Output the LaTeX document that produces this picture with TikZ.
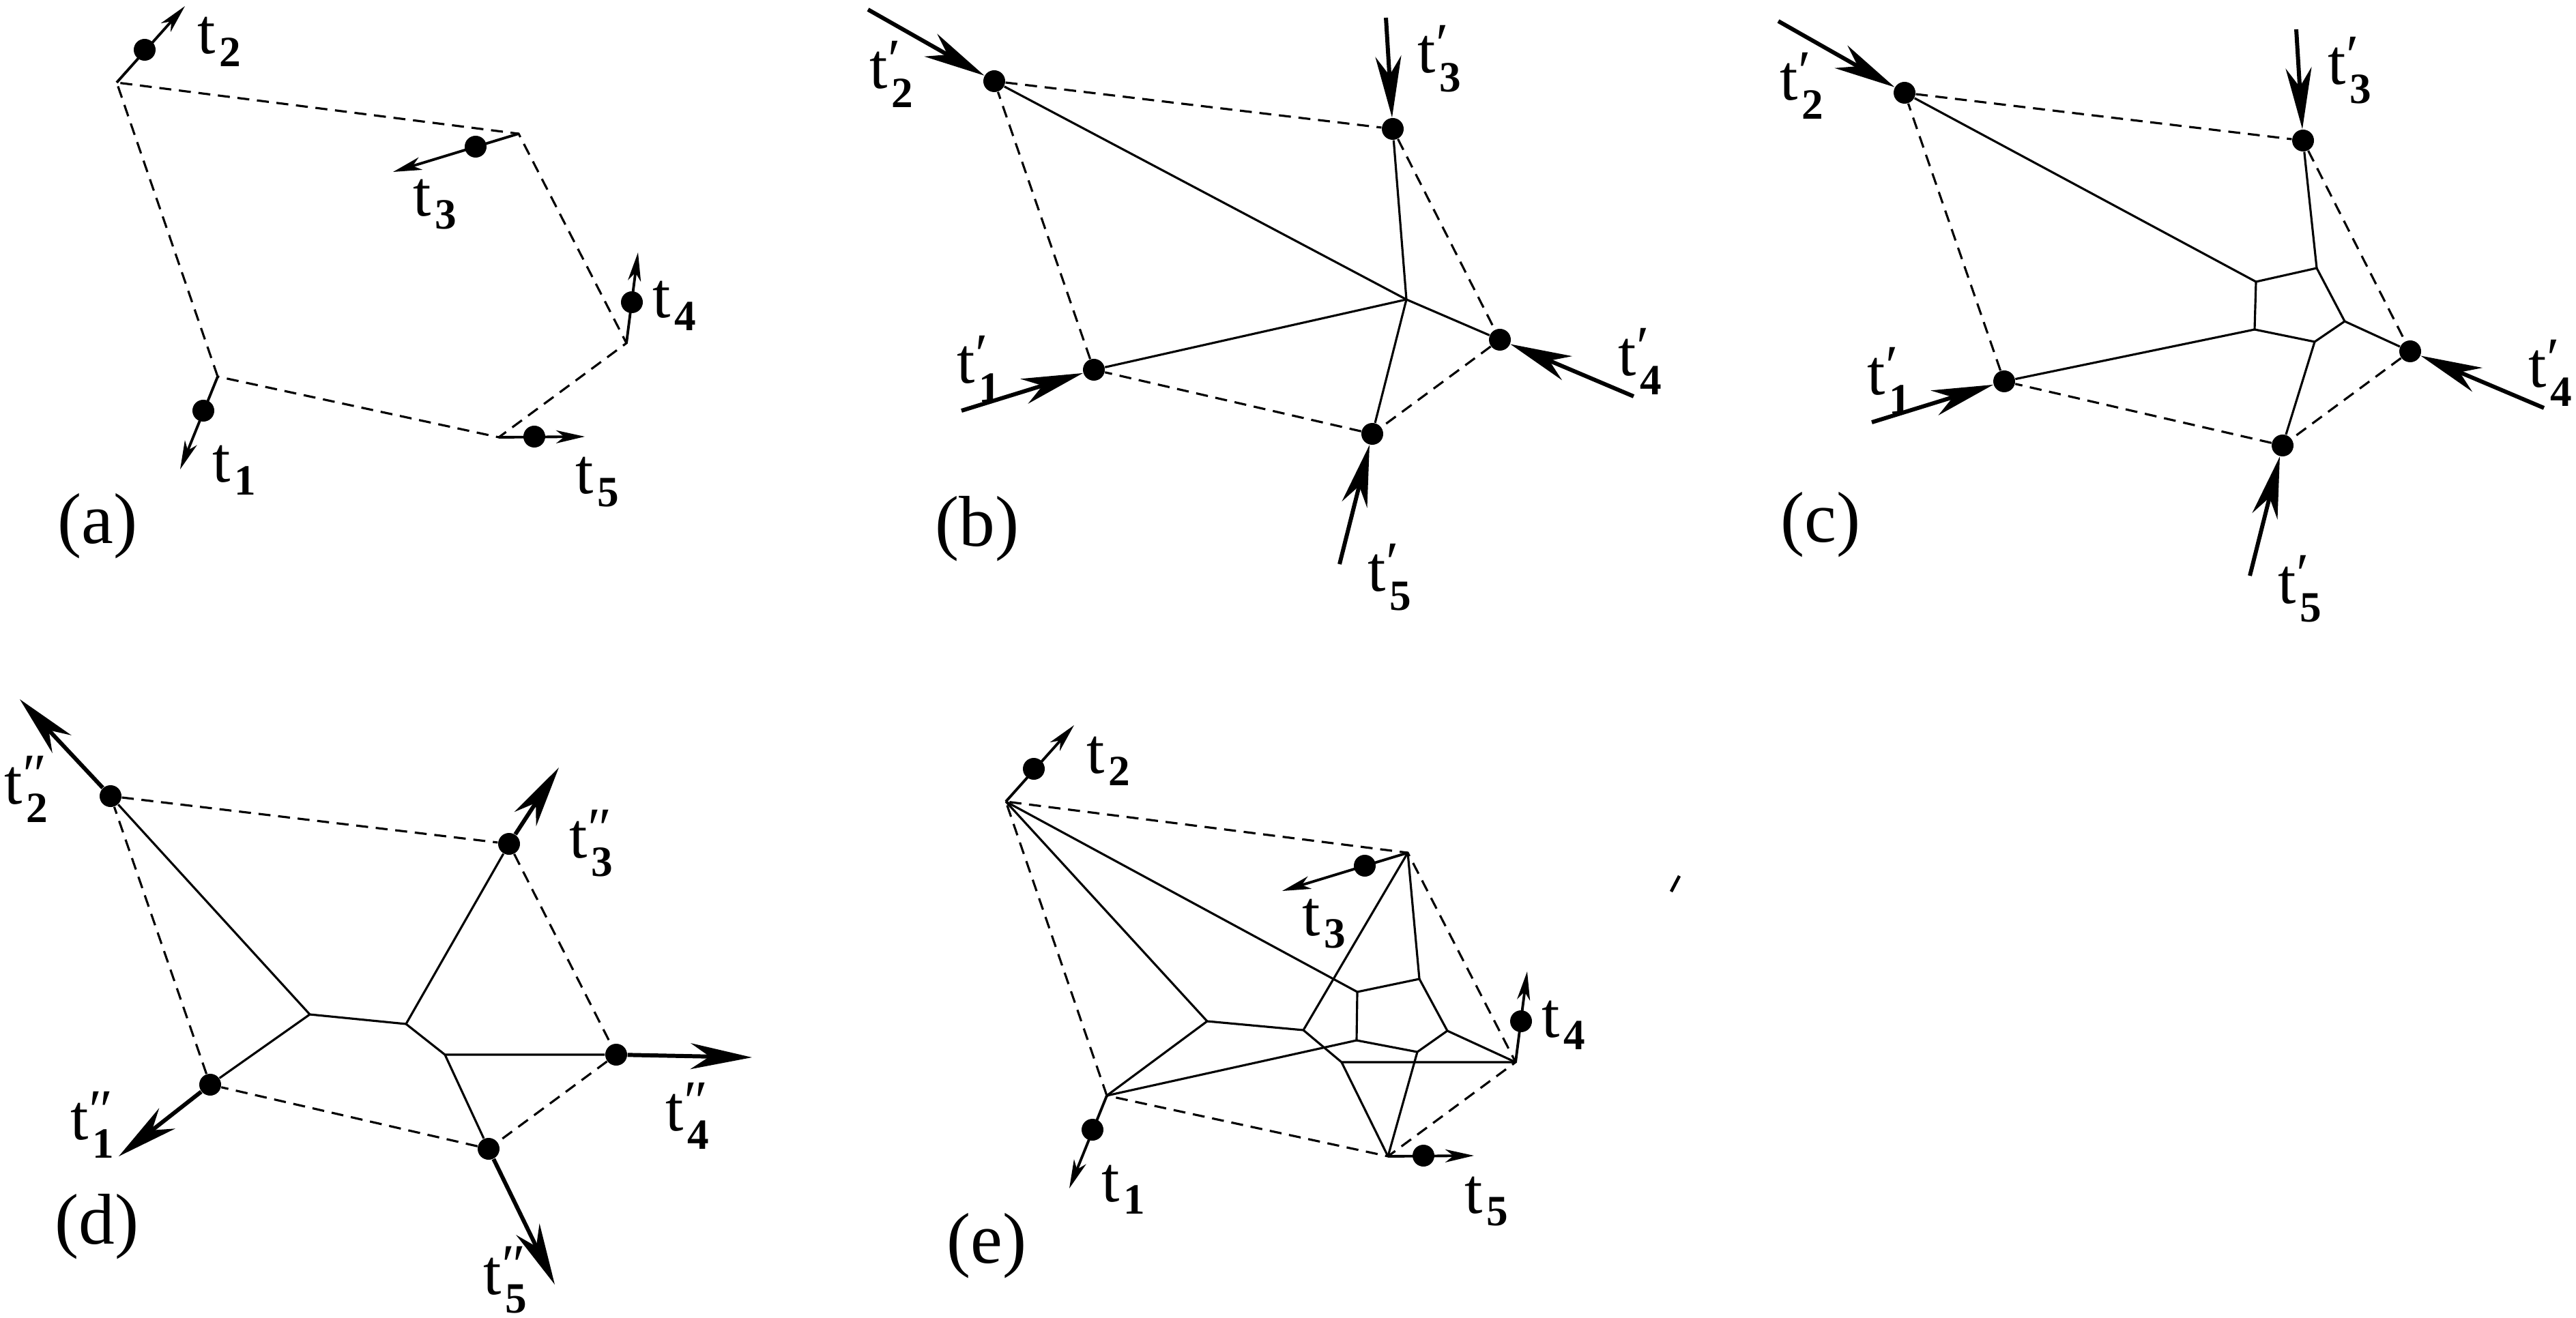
\documentclass[tikz,border=0pt]{standalone}
\usepackage{fontspec}
\setmainfont{Liberation Serif}
\usepackage{tikz}
\usetikzlibrary{arrows.meta}

\newcommand{\tfont}{\fontsize{27}{30}\selectfont}
\newcommand{\pfont}{\fontsize{30}{34}\selectfont}
\newcommand{\sfont}{\fontsize{18}{20}\selectfont\bfseries}
% t with subscript, and t with prime(s) and subscript
\newcommand{\tv}[1]{t\hspace{1.5pt}\raisebox{-5.4pt}{\sfont #1}}
\newcommand{\tp}[2]{t\rlap{\raisebox{4pt}{\fontsize{24}{24}\selectfont #2}}\hspace{1.5pt}\raisebox{-7.7pt}{\sfont #1}}

\begin{document}
\begin{tikzpicture}[
    ball/.style={circle, fill, inner sep=0pt, minimum size=0.32cm},
    hull/.style={dashed, dash pattern=on 5pt off 3.2pt, line width=0.9pt},
    web/.style={line width=0.9pt},
    vec/.style={-{Stealth[length=0.42cm, width=0.19cm, inset=0.12cm]}, line width=1.1pt},
    force/.style={-{Stealth[length=0.9cm, width=0.38cm, inset=0.28cm]}, line width=1.7pt},
    lbl/.style={anchor=base west, inner sep=0pt, font=\tfont},
    panel/.style={anchor=base west, inner sep=0pt, font=\pfont}
  ]
  \useasboundingbox (0,0) rectangle (37.75,-19.32);

  % (a) initial configuration
  \coordinate (a1v) at (3.19,-5.52);
  \coordinate (a2v) at (1.71,-1.21);
  \coordinate (a3v) at (7.60,-1.96);
  \coordinate (a4v) at (9.18,-5.03);
  \coordinate (a5v) at (7.31,-6.41);
  \coordinate (a1t) at (2.64,-6.88);
  \coordinate (a2t) at (2.71,-0.09);
  \coordinate (a3t) at (5.76,-2.52);
  \coordinate (a4t) at (9.35,-3.70);
  \coordinate (a5t) at (8.57,-6.40);
  \node[ball] (a1) at (2.98,-6.02) {};
  \node[ball] (a2) at (2.12,-0.73) {};
  \node[ball] (a3) at (6.97,-2.15) {};
  \node[ball] (a4) at (9.26,-4.43) {};
  \node[ball] (a5) at (7.83,-6.40) {};

  \draw[hull] (a1v) -- (a2v) -- (a3v) -- (a4v) -- (a5v) -- cycle;
  \draw[vec] (a1v) -- (a1t);
  \draw[vec] (a2v) -- (a2t);
  \draw[vec] (a3v) -- (a3t);
  \draw[vec] (a4v) -- (a4t);
  \draw[vec] (a5v) -- (a5t);

  \node[lbl] (a1l) at (3.11,-7.07) {\tv{1}};
  \node[lbl] (a2l) at (2.89,-0.79) {\tv{2}};
  \node[lbl] (a3l) at (6.05,-3.17) {\tv{3}};
  \node[lbl] (a4l) at (9.56,-4.66) {\tv{4}};
  \node[lbl] (a5l) at (8.43,-7.24) {\tv{5}};
  \node[panel] (acap) at (0.84,-7.97) {(a)};

  % (b) incoming momenta
  \node[ball] (b1) at (16.03,-5.42) {};
  \node[ball] (b2) at (14.57,-1.19) {};
  \node[ball] (b3) at (20.41,-1.89) {};
  \node[ball] (b4) at (21.98,-4.98) {};
  \node[ball] (b5) at (20.11,-6.36) {};
  \coordinate (b1s) at (14.09,-6.02);
  \coordinate (b2s) at (12.72,-0.14);
  \coordinate (b3s) at (20.31,-0.26);
  \coordinate (b4s) at (23.94,-5.81);
  \coordinate (b5s) at (19.63,-8.27);
  \coordinate (bj) at (20.61,-4.39);

  \draw[hull] (b1) -- (b2) -- (b3) -- (b4) -- (b5) -- (b1);
  \draw[web] (b2) -- (bj) -- (b4);
  \draw[web] (b3) -- (bj) -- (b5);
  \draw[web] (b1) -- (bj);
  \draw[force] (b1s) -- (b1);
  \draw[force] (b2s) -- (b2);
  \draw[force] (b3s) -- (b3);
  \draw[force] (b4s) -- (b4);
  \draw[force] (b5s) -- (b5);

  \node[lbl] (b1l) at (14.02,-5.62) {\tp{1}{′}};
  \node[lbl] (b2l) at (12.74,-1.30) {\tp{2}{′}};
  \node[lbl] (b3l) at (20.77,-1.07) {\tp{3}{′}};
  \node[lbl] (b4l) at (23.71,-5.51) {\tp{4}{′}};
  \node[lbl] (b5l) at (20.04,-8.67) {\tp{5}{′}};
  \node[panel] (bcap) at (13.70,-8.01) {(b)};

  % (c) same momenta, resolved vertex
  \begin{scope}[shift={(13.34,-0.17)}]
    \node[ball] (c1) at (16.03,-5.42) {};
    \node[ball] (c2) at (14.57,-1.19) {};
    \node[ball] (c3) at (20.41,-1.89) {};
    \node[ball] (c4) at (21.98,-4.98) {};
    \node[ball] (c5) at (20.11,-6.36) {};
    \coordinate (c1s) at (14.09,-6.02);
    \coordinate (c2s) at (12.72,-0.14);
    \coordinate (c3s) at (20.31,-0.26);
    \coordinate (c4s) at (23.94,-5.81);
    \coordinate (c5s) at (19.63,-8.27);
    \coordinate (cA) at (19.72,-3.96);
    \coordinate (cB) at (20.61,-3.76);
    \coordinate (cC) at (21.02,-4.54);
    \coordinate (cD) at (20.58,-4.84);
    \coordinate (cE) at (19.70,-4.66);

    \draw[hull] (c1) -- (c2) -- (c3) -- (c4) -- (c5) -- (c1);
    \draw[web] (cA) -- (cB) -- (cC) -- (cD) -- (cE) -- cycle;
    \draw[web] (c2) -- (cA);
    \draw[web] (c3) -- (cB);
    \draw[web] (c4) -- (cC);
    \draw[web] (c5) -- (cD);
    \draw[web] (c1) -- (cE);
    \draw[force] (c1s) -- (c1);
    \draw[force] (c2s) -- (c2);
    \draw[force] (c3s) -- (c3);
    \draw[force] (c4s) -- (c4);
    \draw[force] (c5s) -- (c5);

    \node[lbl] (c1l) at (14.02,-5.62) {\tp{1}{′}};
    \node[lbl] (c2l) at (12.74,-1.30) {\tp{2}{′}};
    \node[lbl] (c3l) at (20.77,-1.07) {\tp{3}{′}};
    \node[lbl] (c4l) at (23.71,-5.51) {\tp{4}{′}};
    \node[lbl] (c5l) at (20.04,-8.67) {\tp{5}{′}};
    \node[panel] (ccap) at (12.75,-7.78) {(c)};
  \end{scope}

  % (d) outgoing momenta
  \begin{scope}[shift={(-12.95,-10.48)}]
    \node[ball] (d1) at (16.03,-5.42) {};
    \node[ball] (d2) at (14.57,-1.19) {};
    \node[ball] (d3) at (20.41,-1.89) {};
    \node[ball] (d4) at (21.98,-4.98) {};
    \node[ball] (d5) at (20.11,-6.36) {};
    \coordinate (d1t) at (14.69,-6.47);
    \coordinate (d2t) at (13.24,0.23);
    \coordinate (d3t) at (21.14,-0.77);
    \coordinate (d4t) at (23.97,-5.02);
    \coordinate (d5t) at (21.08,-8.35);
    \coordinate (dK1) at (17.49,-4.39);
    \coordinate (dK2) at (18.90,-4.53);
    \coordinate (dK3) at (19.47,-4.98);

    \draw[hull] (d1) -- (d2) -- (d3) -- (d4) -- (d5) -- (d1);
    \draw[web] (d2) -- (dK1) -- (d1);
    \draw[web] (dK1) -- (dK2) -- (d3);
    \draw[web] (dK2) -- (dK3) -- (d4);
    \draw[web] (dK3) -- (d5);
    \draw[force] (d1) -- (d1t);
    \draw[force] (d2) -- (d2t);
    \draw[force] (d3) -- (d3t);
    \draw[force] (d4) -- (d4t);
    \draw[force] (d5) -- (d5t);

    \node[lbl] (d1l) at (13.98,-6.22) {\tp{1}{″}};
    \node[lbl] (d2l) at (13.01,-1.30) {\tp{2}{″}};
    \node[lbl] (d3l) at (21.29,-2.09) {\tp{3}{″}};
    \node[lbl] (d4l) at (22.70,-6.09) {\tp{4}{″}};
    \node[lbl] (d5l) at (20.03,-8.49) {\tp{5}{″}};
    \node[panel] (dcap) at (13.75,-7.75) {(d)};
  \end{scope}

  % (e) superposition
  \begin{scope}[shift={(13.03,-10.54)}]
    \coordinate (e1v) at (3.19,-5.52);
    \coordinate (e2v) at (1.71,-1.21);
    \coordinate (e3v) at (7.60,-1.96);
    \coordinate (e4v) at (9.18,-5.03);
    \coordinate (e5v) at (7.31,-6.41);
    \coordinate (e1t) at (2.64,-6.88);
    \coordinate (e2t) at (2.71,-0.09);
    \coordinate (e3t) at (5.76,-2.52);
    \coordinate (e4t) at (9.35,-3.70);
    \coordinate (e5t) at (8.57,-6.40);
    \coordinate (eM1) at (4.66,-4.43);
    \coordinate (eM2) at (6.07,-4.56);
    \coordinate (eM3) at (6.63,-5.03);
    \coordinate (eN1) at (6.86,-4.00);
    \coordinate (eN2) at (7.77,-3.81);
    \coordinate (eN3) at (8.18,-4.57);
    \coordinate (eN4) at (7.74,-4.88);
    \coordinate (eN5) at (6.85,-4.71);
    \node[ball] (e1) at (2.98,-6.02) {};
    \node[ball] (e2) at (2.12,-0.73) {};
    \node[ball] (e3) at (6.97,-2.15) {};
    \node[ball] (e4) at (9.26,-4.43) {};
    \node[ball] (e5) at (7.83,-6.40) {};

    \draw[hull] (e1v) -- (e2v) -- (e3v) -- (e4v) -- (e5v) -- cycle;
    \draw[web] (e2v) -- (eM1) -- (e1v);
    \draw[web] (eM1) -- (eM2) -- (e3v);
    \draw[web] (eM2) -- (eM3) -- (e4v);
    \draw[web] (eM3) -- (e5v);
    \draw[web] (eN1) -- (eN2) -- (eN3) -- (eN4) -- (eN5) -- cycle;
    \draw[web] (e2v) -- (eN1);
    \draw[web] (e3v) -- (eN2);
    \draw[web] (e4v) -- (eN3);
    \draw[web] (e5v) -- (eN4);
    \draw[web] (e1v) -- (eN5);
    \draw[vec] (e1v) -- (e1t);
    \draw[vec] (e2v) -- (e2t);
    \draw[vec] (e3v) -- (e3t);
    \draw[vec] (e4v) -- (e4t);
    \draw[vec] (e5v) -- (e5t);

    \node[lbl] (e1l) at (3.11,-7.07) {\tv{1}};
    \node[lbl] (e2l) at (2.89,-0.79) {\tv{2}};
    \node[lbl] (e3l) at (6.05,-3.17) {\tv{3}};
    \node[lbl] (e4l) at (9.56,-4.66) {\tv{4}};
    \node[lbl] (e5l) at (8.43,-7.24) {\tv{5}};
    \node[panel] (ecap) at (0.84,-7.97) {(e)};
  \end{scope}

  % stray tick
  \coordinate (tk1) at (24.61,-12.84);
  \coordinate (tk2) at (24.49,-13.07);
  \draw[line width=1.3pt] (tk1) -- (tk2);
\end{tikzpicture}
\end{document}
